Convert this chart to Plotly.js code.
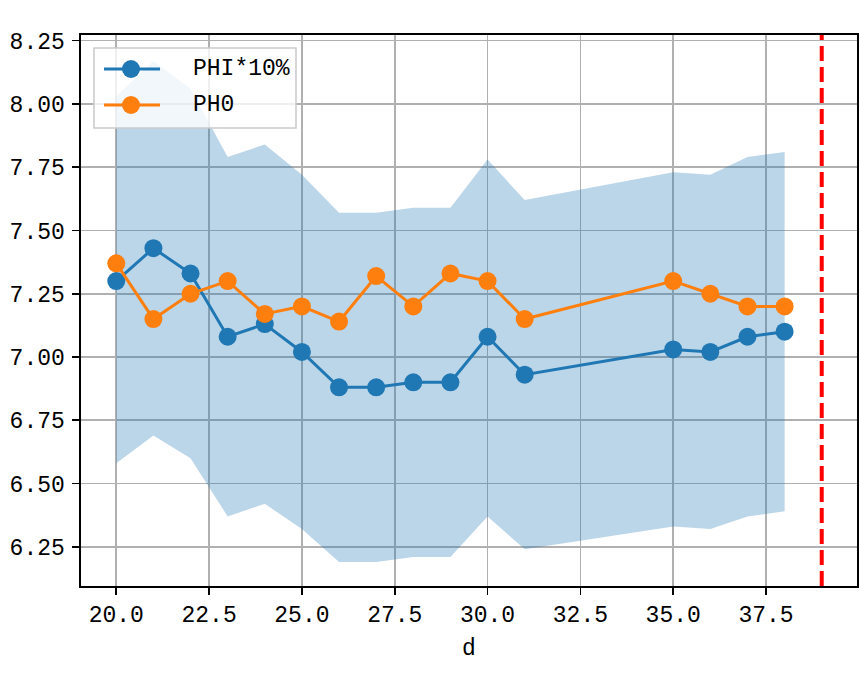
<!DOCTYPE html>
<html>
<head>
<meta charset="utf-8">
<script src="https://cdn.plot.ly/plotly-3.0.1.min.js"></script>
<style>html,body{margin:0;padding:0;background:#fff;}#chart{width:860px;height:682px;}</style>
</head>
<body>
<div id="chart"></div>
<script>
// ---- data ----
const d = [20, 21, 22, 23, 24, 25, 26, 27, 28, 29, 30, 31, 35, 36, 37, 38];
const phi = [7.30, 7.43, 7.33, 7.08, 7.13, 7.02, 6.88, 6.88, 6.90, 6.90, 7.08, 6.93, 7.03, 7.02, 7.08, 7.10];
const pho = [7.37, 7.15, 7.25, 7.30, 7.17, 7.20, 7.14, 7.32, 7.20, 7.33, 7.30, 7.15, 7.30, 7.25, 7.20, 7.20];
const bandUpper = [8.03, 8.17, 8.06, 7.79, 7.84, 7.72, 7.57, 7.57, 7.59, 7.59, 7.78, 7.62, 7.73, 7.72, 7.79, 7.81];
const bandLower = [6.58, 6.69, 6.60, 6.37, 6.42, 6.32, 6.19, 6.19, 6.21, 6.21, 6.37, 6.24, 6.33, 6.32, 6.37, 6.39];
const vLineX = 39;
const seriesNames = ['PHI*10%', 'PH0'];
const xTicks = [20, 22.5, 25, 27.5, 30, 32.5, 35, 37.5];
const yTicks = [6.25, 6.50, 6.75, 7.00, 7.25, 7.50, 7.75, 8.00, 8.25];
const xTitle = 'd';

// ---- styling ----
const FONT = 'Liberation Mono, DejaVu Sans Mono, monospace';
const FS = 23;
const C0 = '#1f77b4', C1 = '#ff7f0e';
const W = 860, H = 682;
const M = {l: 81, r: 3, t: 35, b: 96};
const pw = W - M.l - M.r, ph = H - M.t - M.b;
const px = v => (v - M.l) / pw;          // pixel -> paper x
const py = v => (M.t + ph - v) / ph;     // pixel -> paper y

const band = {
  x: d.concat(d.slice().reverse()),
  y: bandUpper.concat(bandLower.slice().reverse()),
  type: 'scatter', mode: 'lines', fill: 'toself',
  fillcolor: 'rgba(31,119,180,0.3)', line: {width: 0, color: 'rgba(0,0,0,0)'},
  hoverinfo: 'skip', showlegend: false
};
const tPhi = {x: d, y: phi, type: 'scatter', mode: 'lines+markers', name: seriesNames[0],
  line: {color: C0, width: 3}, marker: {color: C0, size: 18}, showlegend: false};
const tPho = {x: d, y: pho, type: 'scatter', mode: 'lines+markers', name: seriesNames[1],
  line: {color: C1, width: 3}, marker: {color: C1, size: 18}, showlegend: false};

// custom legend (matplotlib style)
const legShapes = [];
const legAnn = [];
legShapes.push({type: 'rect', xref: 'paper', yref: 'paper', x0: px(94), x1: px(296), y0: py(128), y1: py(48),
  fillcolor: 'rgba(255,255,255,0.8)', line: {color: '#cccccc', width: 1.6}, layer: 'above'});
[[69, C0, seriesNames[0]], [105, C1, seriesNames[1]]].forEach(([yy, col, name]) => {
  legShapes.push({type: 'line', xref: 'paper', yref: 'paper', x0: px(104), x1: px(160), y0: py(yy), y1: py(yy),
    line: {color: col, width: 3}, layer: 'above'});
  legShapes.push({type: 'circle', xref: 'paper', yref: 'paper', xsizemode: 'pixel', ysizemode: 'pixel',
    xanchor: px(131), yanchor: py(yy), x0: -9, x1: 9, y0: -9, y1: 9,
    fillcolor: col, line: {color: col, width: 0}, layer: 'above'});
  legAnn.push({xref: 'paper', yref: 'paper', x: px(191), y: py(yy), xanchor: 'left', yanchor: 'middle',
    text: name, showarrow: false, font: {family: FONT, size: FS, color: '#000'}});
});

const axisCommon = {
  showgrid: true, gridcolor: '#b0b0b0', gridwidth: 1.6,
  showline: true, mirror: true, linecolor: '#000', linewidth: 1.6,
  ticks: 'outside', ticklen: 7, tickwidth: 1.6, tickcolor: '#000',
  zeroline: false, tickfont: {family: FONT, size: FS, color: '#000'}
};

const layout = {
  width: W, height: H, margin: M,
  paper_bgcolor: '#fff', plot_bgcolor: '#fff',
  showlegend: false,
  xaxis: Object.assign({}, axisCommon, {range: [19.05, 39.95], tickvals: xTicks, tickformat: '.1f',
    title: {text: xTitle, font: {family: FONT, size: FS, color: '#000'}, standoff: 10}}),
  yaxis: Object.assign({}, axisCommon, {range: [6.095, 8.2725], tickvals: yTicks, tickformat: '.2f',
    ticklabelstandoff: 3}),
  shapes: [{type: 'line', xref: 'x', yref: 'paper', x0: vLineX, x1: vLineX, y0: 0, y1: 1,
    line: {color: '#ff0000', width: 4, dash: '15px,6px'}}].concat(legShapes),
  annotations: legAnn
};

Plotly.newPlot('chart', [band, tPhi, tPho], layout, {displayModeBar: false, staticPlot: true});
</script>
</body>
</html>
